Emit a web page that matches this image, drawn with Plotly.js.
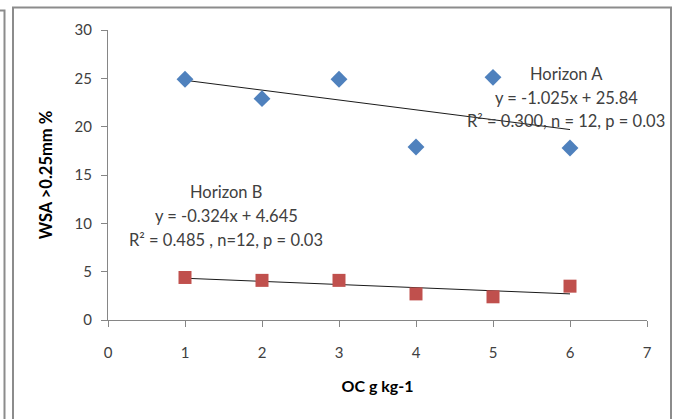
<!DOCTYPE html>
<html><head><meta charset="utf-8">
<script src="https://cdn.plot.ly/plotly-3.0.1.min.js"></script>
<style>html,body{margin:0;padding:0;background:#fff}#c{width:676px;height:419px}</style>
</head><body><div id="c"></div>
<script>
const ocX = [1, 2, 3, 4, 5, 6];
const horizonA = [24.9, 22.9, 24.9, 17.9, 25.1, 17.8];
const horizonB = [4.4, 4.1, 4.1, 2.7, 2.4, 3.5];
const trendX = [1, 6];
const trendA = [24.8, 19.7];
const trendB = [4.32, 2.70];
const xTicks = [0, 1, 2, 3, 4, 5, 6, 7];
const yTicks = [0, 5, 10, 15, 20, 25, 30];
const labelsA = ["Horizon A", "y = -1.025x + 25.84", "R\u00b2 = 0.300, n = 12, p = 0.03"];
const labelsB = ["Horizon B", "y = -0.324x + 4.645", "R\u00b2 = 0.485 , n=12, p = 0.03"];

const W = 676, H = 419;
const px = v => v / W, py = v => 1 - v / H;
const font = "Lato, 'Open Sans', sans-serif";

const traces = [
  {x: trendX, y: trendA, mode: 'lines', line: {color: '#1a1a1a', width: 1}, hoverinfo: 'skip', showlegend: false},
  {x: trendX, y: trendB, mode: 'lines', line: {color: '#1a1a1a', width: 1}, hoverinfo: 'skip', showlegend: false},
  {x: ocX, y: horizonA, mode: 'markers', name: 'Horizon A',
   marker: {symbol: 'diamond', size: 13, color: '#4F81BD'}},
  {x: ocX, y: horizonB, mode: 'markers', name: 'Horizon B',
   marker: {symbol: 'square', size: 13, color: '#C0504D'}}
];

const annos = [];
const addLabels = (lines, cx, ys) => lines.forEach((t, i) => annos.push({
  xref: 'paper', yref: 'paper', x: px(cx), y: py(ys[i]), text: t, showarrow: false,
  xanchor: 'center', yanchor: 'middle', font: {family: font, size: 16.5, color: '#404040'}
}));
addLabels(labelsA, 566, [74, 98, 121]);
addLabels(labelsB, 226, [192, 216, 240]);

const layout = {
  width: W, height: H, margin: {l: 0, r: 0, t: 0, b: 0},
  paper_bgcolor: '#fff', plot_bgcolor: '#fff', showlegend: false,
  font: {family: font, color: '#404040'},
  xaxis: {domain: [px(108), px(647)], range: [0, 7], tickvals: xTicks, ticktext: xTicks.map(String),
    showgrid: false, zeroline: false, showline: true, linecolor: '#868686', linewidth: 1,
    ticks: 'outside', ticklen: 6, tickcolor: '#868686', tickfont: {size: 15, color: '#404040'},
    ticklabelstandoff: 13,
    title: {text: '<b>OC g kg-1</b>', font: {size: 16, color: '#000'}, standoff: 20}},
  yaxis: {domain: [1 - 320 / H, 1 - 30 / H], range: [0, 30], tickvals: yTicks, ticktext: yTicks.map(String),
    showgrid: false, zeroline: false, showline: true, linecolor: '#868686', linewidth: 1,
    ticks: 'outside', ticklen: 6, tickcolor: '#868686', tickfont: {size: 15, color: '#404040'},
    ticklabelstandoff: 6,
    title: {text: '<b>WSA >0.25mm %</b>', font: {size: 16.5, color: '#000'}, standoff: 17}},
  annotations: annos,
  shapes: [
    {type: 'rect', xref: 'paper', yref: 'paper', x0: px(13), x1: px(671), y0: -0.02, y1: py(7.5),
     line: {color: '#8c8c8c', width: 2}},
    {type: 'path', xref: 'paper', yref: 'paper',
     path: `M 0 ${py(10.5)} L ${px(4.5)} ${py(10.5)} L ${px(4.5)} -0.02`,
     line: {color: '#8c8c8c', width: 2}}
  ]
};
Plotly.newPlot('c', traces, layout, {displayModeBar: false, staticPlot: true});
</script></body></html>
